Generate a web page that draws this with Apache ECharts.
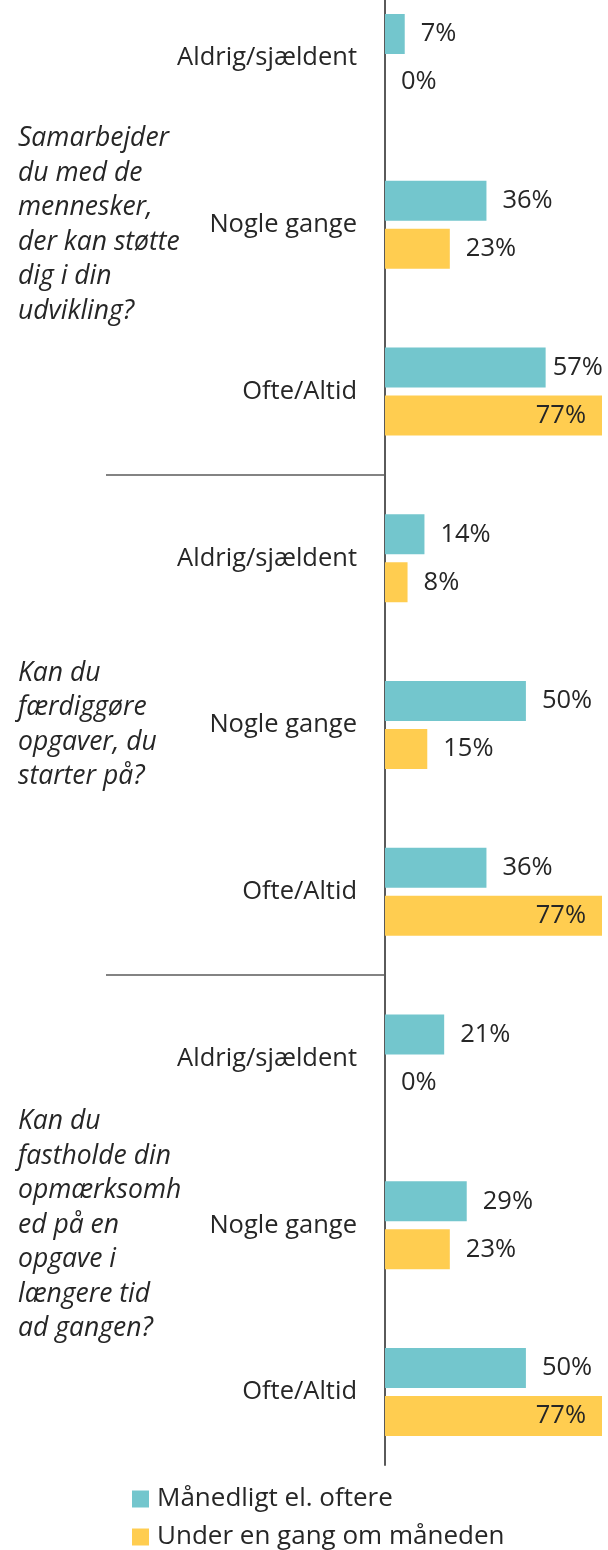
<!DOCTYPE html>
<html>
<head>
<meta charset="utf-8">
<script src="https://cdn.jsdelivr.net/npm/echarts@6/dist/echarts.min.js"></script>
<style>
  html, body { margin: 0; padding: 0; background: #ffffff; overflow: hidden; height: 1550px; }
  /* the first band starts above the visible top edge */
  #chart { width: 608px; height: 1576px; margin-top: -26px; }
</style>
</head>
<body>
<div id="chart"></div>
<script>
// Answer options, repeated once per question
const answers = [
  'Aldrig/sjældent', 'Nogle gange', 'Ofte/Altid',
  'Aldrig/sjældent', 'Nogle gange', 'Ofte/Altid',
  'Aldrig/sjældent', 'Nogle gange', 'Ofte/Altid'
];

// Questions (one per block of three answers)
const questions = [
  'Samarbejder\ndu med de\nmennesker,\nder kan støtte\ndig i din\nudvikling?',
  'Kan du\nfærdiggøre\nopgaver, du\nstarter på?',
  'Kan du\nfastholde din\nopmærksomh\ned på en\nopgave i\nlængere tid\nad gangen?'
];

const seriesNames = ['Månedligt el. oftere', 'Under en gang om måneden'];

// Share of respondents (%)
const monthly = [7, 36, 57, 14, 50, 36, 21, 29, 50];
const lessThanMonthly = [0, 23, 77, 8, 15, 77, 0, 23, 77];

const xMax = 77;

const FONT = 'Open Sans';
const TEXT = '#262626';
const LINE = '#5a5a5a';

const bandCount = answers.length;
const band = 166.75;
const gridTop = 84 - band / 2;
const gridHeight = band * bandCount;

// Labels go outside the bar; long bars keep them inside or tucked close
function barLabel(value) {
  return {
    show: true,
    position: value >= xMax ? 'insideRight' : 'right',
    distance: value >= xMax ? 16 : (value > 52 ? 7 : 16),
    formatter: '{c}%',
    fontFamily: FONT,
    fontSize: 25.5,
    color: TEXT
  };
}

function makeData(values) {
  return values.map(v => ({ value: v, label: barLabel(v) }));
}

const chart = echarts.init(document.getElementById('chart'), null, { renderer: 'canvas' });

chart.setOption({
  animation: false,
  backgroundColor: '#ffffff',
  textStyle: { fontFamily: FONT },
  grid: [
    { left: 385, right: 6, top: gridTop, height: gridHeight, containLabel: false },
    { left: 106, width: 279, top: gridTop, height: gridHeight, containLabel: false },
    // frame for the vertical baseline
    { left: 385, right: 6, top: 11, height: 1480, containLabel: false }
  ],
  legend: {
    orient: 'vertical',
    left: 132,
    top: 1510,
    height: 90,
    padding: 0,
    icon: 'rect',
    itemWidth: 17,
    itemHeight: 17,
    itemGap: 8,
    textStyle: { fontFamily: FONT, fontSize: 26, color: TEXT, lineHeight: 30, padding: [0, 0, 0, 3] },
    data: seriesNames
  },
  xAxis: [
    { type: 'value', gridIndex: 0, min: 0, max: xMax, show: false },
    { type: 'value', gridIndex: 1, min: 0, max: 1, show: false },
    { type: 'value', gridIndex: 2, min: 0, max: 1, show: false }
  ],
  yAxis: [
    {
      type: 'category',
      gridIndex: 0,
      inverse: true,
      data: answers,
      axisLine: { show: false },
      axisTick: { show: false },
      axisLabel: {
        margin: 28,
        fontFamily: FONT,
        fontSize: 25.5,
        color: TEXT
      },
      splitLine: { show: false }
    },
    {
      type: 'category',
      gridIndex: 1,
      inverse: true,
      data: questions,
      axisLine: { show: false },
      axisTick: { show: false },
      splitLine: {
        show: true,
        showMinLine: false,
        showMaxLine: false,
        lineStyle: { color: LINE, width: 1.5 }
      },
      axisLabel: {
        margin: 88,
        align: 'left',
        fontFamily: FONT,
        fontStyle: 'italic',
        fontSize: 26.5,
        lineHeight: 34.5,
        color: TEXT
      }
    },
    {
      type: 'value',
      gridIndex: 2,
      min: 0,
      max: 1,
      axisLine: { show: true, lineStyle: { color: LINE, width: 2 } },
      axisTick: { show: false },
      axisLabel: { show: false },
      splitLine: { show: false }
    }
  ],
  series: [
    {
      name: seriesNames[0],
      type: 'bar',
      xAxisIndex: 0,
      yAxisIndex: 0,
      barWidth: 40,
      barGap: '20%',
      itemStyle: { color: '#73C6CD' },
      data: makeData(monthly)
    },
    {
      name: seriesNames[1],
      type: 'bar',
      xAxisIndex: 0,
      yAxisIndex: 0,
      barWidth: 40,
      barGap: '20%',
      itemStyle: { color: '#FFCD50' },
      data: makeData(lessThanMonthly)
    }
  ]
});
</script>
</body>
</html>
